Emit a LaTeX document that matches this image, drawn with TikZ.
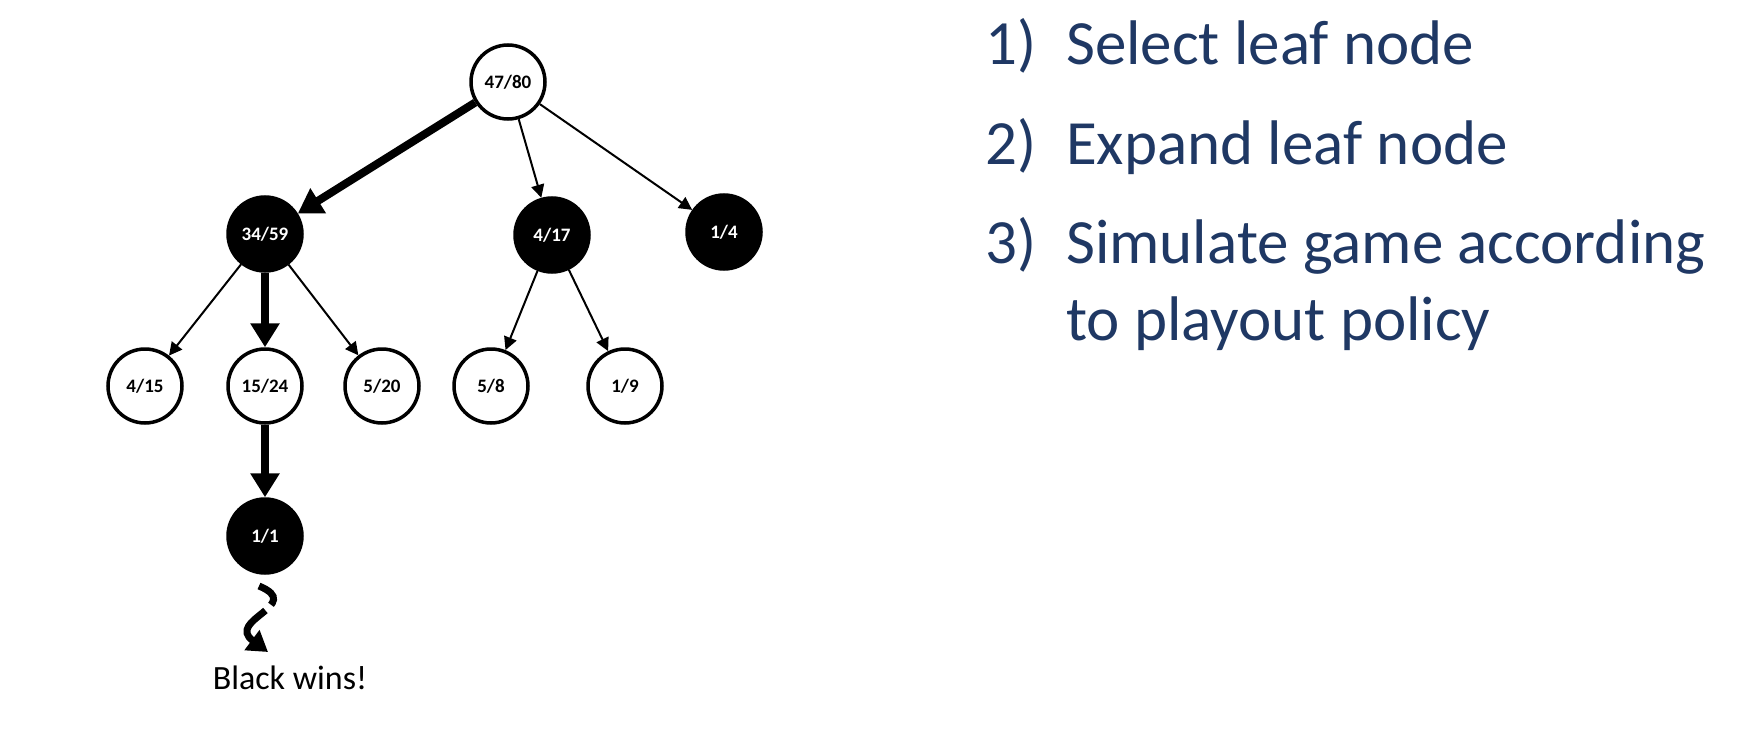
\documentclass[tikz,border=0pt]{standalone}
\usepackage{fontspec}
\setmainfont{Carlito}
\usetikzlibrary{arrows.meta}
\definecolor{navy}{RGB}{31,56,100}
\begin{document}
\begin{tikzpicture}[x=1pt,y=-1pt,
  tnode/.style={circle, draw=black, line width=3.5pt, minimum size=74pt, inner sep=0pt, font=\fontsize{19}{21}\selectfont\bfseries},
  wnode/.style={tnode, fill=white},
  bnode/.style={tnode, fill=black, text=white},
  thinarrow/.style={line width=2pt, -{Triangle[length=13pt,width=13pt]}},
  thickarrow/.style={line width=8pt, -{Triangle[length=24pt,width=28pt]}},
  steptext/.style={anchor=base west, text=navy, font=\fontsize{63}{76}\selectfont, inner sep=0pt}
]
\useasboundingbox (0,0) rectangle (1750,752);

\node[wnode] (root) at (508,82) {47/80};
\node[bnode] (a) at (265,234) {34/59};
\node[bnode] (b) at (552,235) {4/17};
\node[bnode] (c) at (724,232) {1/4};
\node[wnode] (a1) at (145,386) {4/15};
\node[wnode] (a2) at (265,386) {15/24};
\node[wnode] (a3) at (382,386) {5/20};
\node[wnode] (b1) at (491,386) {5/8};
\node[wnode] (b2) at (625,386) {1/9};
\node[bnode] (leaf) at (265,536) {1/1};

\draw[thickarrow] (root) -- (a);
\draw[thinarrow] (root) -- (b);
\draw[thinarrow] (root) -- (c);
\draw[thinarrow] (a) -- (a1);
\draw[thickarrow] (a) -- (a2);
\draw[thinarrow] (a) -- (a3);
\draw[thinarrow] (b) -- (b1);
\draw[thinarrow] (b) -- (b2);
\draw[thickarrow] (a2) -- (leaf);

\coordinate (s1) at (259,586);
\coordinate (s2) at (268,652);
\draw[line width=7pt, dash pattern=on 27pt off 8pt on 300pt off 1pt, -{Triangle[length=20pt,width=24pt]}]
  (s1) .. controls (305,605) and (225,620) .. (s2);

\node[anchor=base, font=\fontsize{34}{40}\selectfont, inner sep=0pt] (bw) at (290,689) {Black wins!};

\node[steptext] (n1) at (985,64) {1)};
\node[steptext] (t1) at (1066,64) {Select leaf node};
\node[steptext] (n2) at (985,164) {2)};
\node[steptext] (t2) at (1066,164) {Expand leaf node};
\node[steptext] (n3) at (985,263) {3)};
\node[steptext] (t3) at (1066,263) {Simulate game according};
\node[steptext] (t4) at (1066,340) {to playout policy};
\end{tikzpicture}
\end{document}
